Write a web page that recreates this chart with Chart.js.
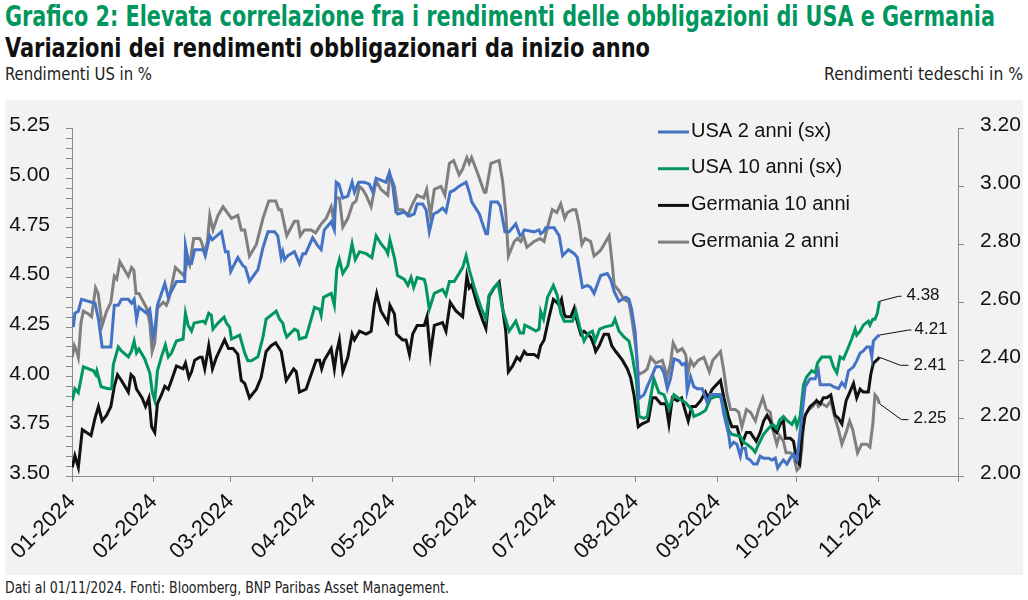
<!DOCTYPE html>
<html>
<head>
<meta charset="utf-8">
<script src="https://cdn.jsdelivr.net/npm/chart.js@4.4.1/dist/chart.umd.min.js"></script>
<style>
  body { margin: 0; width: 1028px; height: 600px; background: #fff; position: relative; overflow: hidden;
         font-family: 'Liberation Sans Narrow', 'DejaVu Sans Condensed', 'Liberation Sans', sans-serif; }
  .t { position: absolute; white-space: nowrap; transform-origin: 0 0; line-height: 1; }
  #title { left: 5px; top: 3px; font-size: 28px; font-weight: bold; color: #00965e; }
  #subtitle { left: 5px; top: 34px; font-size: 27px; font-weight: bold; color: #111; }
  #axisUs { left: 5px; top: 66px; font-size: 17px; color: #222; }
  #axisDe { right: 5px; top: 66px; font-size: 17px; color: #222; transform-origin: 100% 0; }
  #footer { left: 5px; top: 581px; font-size: 15px; color: #222; }
  #panel { position: absolute; left: 5px; top: 100px; width: 1018px; height: 475px; background: #f2f2f2; }
</style>
</head>
<body>
<div class="t" id="title">Grafico 2: Elevata correlazione fra i rendimenti delle obbligazioni di USA e Germania</div>
<div class="t" id="subtitle">Variazioni dei rendimenti obbligazionari da inizio anno</div>
<div class="t" id="axisUs">Rendimenti US in %</div>
<div class="t" id="axisDe">Rendimenti tedeschi in %</div>
<div id="panel"><canvas id="bondChart" width="1018" height="475"></canvas></div>
<div class="t" id="footer">Dati al 01/11/2024. Fonti: Bloomberg, BNP Paribas Asset Management.</div>
<script>
// x = days since 01-01-2024
const monthDays = [0, 31, 60, 91, 121, 152, 182, 213, 244, 274, 305, 335];
const monthLabels = ['01-2024', '02-2024', '03-2024', '04-2024', '05-2024', '06-2024',
                     '07-2024', '08-2024', '09-2024', '10-2024', '11-2024'];

const seriesNames = ['USA 2 anni (sx)', 'USA 10 anni (sx)', 'Germania 10 anni', 'Germania 2 anni'];

const usa2 = [
  [0.5,4.25],[1.1,4.32],[2.4,4.33],[3.6,4.39],[8.7,4.37],[10,4.29],[11.4,4.15],[14.7,4.15],[16,4.36],[17.5,4.36],
  [18.7,4.39],[21.3,4.39],[22.5,4.37],[23.5,4.39],[24.4,4.29],[25.3,4.35],[28.2,4.32],[29.4,4.34],[30.7,4.20],[31.3,4.23],
  [32.3,4.36],[35.1,4.47],[36.4,4.40],[39.5,4.48],[42.6,4.48],[42.9,4.66],[44.2,4.57],[45.2,4.57],[46.4,4.64],[49.6,4.64],
  [50.4,4.61],[52.1,4.71],[53,4.69],[56.5,4.73],[58,4.63],[59,4.63],[60,4.53],
  [62.7,4.60],[64.6,4.56],[65.6,4.55],[67.1,4.48],[70.3,4.54],[72.2,4.65],[74.1,4.73],[76.6,4.73],[77.8,4.71],[79.1,4.60],
  [79.7,4.63],[80.4,4.59],[81.6,4.61],[84.1,4.63],[86,4.57],[87.3,4.62],[88.3,4.62],[91,4.70],[92.9,4.66],[94.2,4.64],
  [95.4,4.74],[98,4.78],[99.2,4.74],[99.9,4.98],[100.9,4.97],[102.4,4.90],[104.3,4.91],[105.9,4.98],[106.8,4.93],[108.4,4.98],
  [110.5,4.98],[112.4,4.97],[113.7,4.93],[115,5.00],[118.7,4.98],[120,5.03],[121.2,4.97],[122.5,4.83],
  [123.2,4.82],[125.7,4.83],[127.6,4.81],[129.4,4.82],[130.5,4.87],[132.6,4.87],[133.9,4.84],[135.1,4.73],[136.7,4.82],[138.3,4.83],
  [140.1,4.85],[141.4,4.83],[143,4.93],[144.5,4.94],[146.4,4.96],[149,4.98],[150.2,4.93],[151.2,4.88],[154,4.82],[156.5,4.72],
  [157.1,4.72],[158.4,4.88],[160.9,4.88],[161.9,4.86],[163.7,4.73],[165.3,4.73],[167.8,4.77],[169.4,4.71],[170.3,4.72],[171,4.74],
  [174.7,4.73],[176.6,4.74],[177.2,4.72],[178.3,4.73],[179.1,4.75],[182.3,4.75],[184.2,4.71],[185.5,4.61],
  [187.7,4.64],[189.9,4.62],[191.1,4.60],[193,4.45],[194.9,4.46],[196.1,4.45],[197.4,4.42],[199.9,4.51],[202.4,4.52],[203.7,4.49],
  [205,4.43],[206.8,4.38],[208.1,4.39],[209.4,4.40],[210.6,4.39],[211.6,4.34],[212.9,4.23],[213.8,4.06],[214.4,3.89],[216.3,3.91],
  [217.5,3.95],[218.8,3.99],[220.7,4.05],[222.6,4.05],[223.8,4.02],[225.1,3.94],[226.3,3.99],[227.6,4.09],[229.5,4.08],[230.7,4.06],
  [232,4.07],[232.6,3.93],[233.9,4.00],[235.1,3.95],[236.4,3.94],[238.3,3.94],[240.2,3.87],[241.4,3.91],[243.3,3.91],[245.2,3.91],
  [246.5,3.81],
  [248.3,3.71],[248.9,3.65],[250.2,3.67],[251.4,3.66],[252.7,3.60],[253.3,3.64],[254.6,3.64],[255.2,3.59],[256.5,3.58],[257.7,3.56],
  [259,3.56],[260.2,3.60],[261.5,3.59],[263.4,3.59],[264.6,3.58],[265.9,3.59],[266.8,3.54],[267.8,3.56],[269,3.58],[270.3,3.56],
  [271.6,3.59],[272.8,3.61],[274.1,3.58],[277.2,3.95],[279.1,3.99],[281,3.99],[282.2,4.03],[282.9,3.96],[284.1,3.96],[286.7,3.96],
  [287.9,3.95],[289.8,3.94],[291.1,3.97],[292.3,3.95],[293.6,4.03],[295.5,4.05],[296.7,4.08],[298,4.12],[299.2,4.13],[300.5,4.15],
  [301.7,4.15],[302.4,4.10],[303,4.18],[304.3,4.20],[305.3,4.21]
];

const usa10 = [
  [0.1,3.88],[1.1,3.94],[2.4,3.92],[4.3,4.05],[8.1,4.03],[9,4.01],[9.4,4.03],[11,3.95],[13.7,3.94],[15,3.94],
  [15.6,4.06],[17.5,4.15],[18.7,4.13],[21.3,4.10],[22.5,4.13],[23.5,4.18],[24.4,4.12],[25.3,4.14],[27.5,4.09],[29.4,4.02],
  [30.4,3.92],[31.3,3.88],[32.3,4.03],[33.8,4.10],[35.3,4.16],[36.4,4.10],[37.6,4.12],[39.5,4.18],[42,4.19],[42.9,4.32],
  [43.9,4.26],[45.2,4.23],[46.2,4.27],[49.6,4.28],[50.4,4.27],[51.7,4.32],[52.7,4.31],[53.3,4.24],[55.2,4.27],[57.5,4.30],
  [58.4,4.27],[59.6,4.25],[60.3,4.19],
  [63.4,4.21],[65.3,4.12],[66.5,4.08],[67.8,4.08],[70.3,4.10],[72.2,4.20],[73.4,4.29],[77.2,4.33],[78.5,4.29],[79.7,4.27],
  [80.4,4.23],[81.2,4.20],[84.1,4.24],[85.4,4.23],[86,4.19],[88.5,4.20],[91.7,4.35],[93.6,4.34],[94.2,4.31],[95.1,4.40],
  [98,4.42],[99.2,4.36],[100.1,4.54],[101.1,4.59],[102.4,4.52],[104.3,4.56],[105.9,4.67],[107.1,4.59],[108.7,4.63],[111.2,4.62],
  [113.4,4.60],[115,4.71],[116.8,4.67],[118.7,4.64],[119.4,4.62],[120.2,4.69],[121.9,4.60],[123.1,4.51],
  [125.7,4.49],[127,4.46],[128.2,4.50],[129.2,4.45],[130.5,4.50],[133.2,4.49],[133.8,4.46],[135.1,4.34],[137,4.42],[140.1,4.44],
  [141.4,4.41],[142.7,4.48],[144.5,4.48],[147.7,4.55],[149,4.61],[150.2,4.54],[152.1,4.45],[154.6,4.35],[156.5,4.29],[157.7,4.41],
  [159.6,4.45],[161.1,4.47],[162.8,4.34],[165.3,4.23],[167.8,4.28],[169.4,4.22],[170.7,4.22],[171.2,4.26],[172.8,4.25],[175.4,4.23],
  [176.6,4.24],[177.2,4.33],[178.3,4.29],[179.8,4.40],[182,4.46],[183.5,4.41],[184.8,4.32],[186.1,4.28],
  [189.2,4.28],[190.5,4.33],[192,4.25],[193.6,4.18],[195.3,4.22],[196.8,4.23],[197.8,4.18],[199.5,4.24],[201.2,4.25],[204.3,4.26],
  [205.3,4.29],[206.8,4.23],[208.7,4.20],[210.6,4.18],[211.9,4.10],[213.4,3.98],[214.4,3.80],[216.3,3.79],[217.5,3.80],[218.8,3.90],
  [220,3.99],[221.9,3.92],[223.8,3.91],[225.7,3.84],[227.6,3.91],[229.5,3.89],[232,3.87],[234.5,3.83],[235.1,3.80],[237,3.81],
  [239.5,3.83],[241.4,3.89],[243.3,3.90],[245.2,3.90],[246.8,3.83],[248.3,3.73],
  [249.5,3.71],[252.7,3.70],[253.9,3.67],[255.2,3.66],[257.1,3.64],[258.3,3.62],[259.6,3.66],[261.5,3.71],[263.4,3.74],[265,3.76],
  [266.5,3.74],[267.5,3.78],[269,3.80],[270.3,3.78],[272.2,3.76],[273.4,3.79],[274.1,3.75],[275.3,3.80],[276.6,3.96],[277.8,4.00],
  [279.7,4.03],[281,4.02],[281.9,4.07],[283.5,4.10],[284.8,4.10],[286.7,4.10],[287.9,4.05],[289.2,4.02],[290.4,4.10],[291.7,4.09],
  [293.6,4.15],[294.8,4.19],[296.1,4.24],[296.7,4.21],[298,4.23],[299.2,4.26],[301.1,4.28],[301.7,4.26],[302.8,4.29],[303.6,4.29],
  [304.5,4.32],[305.3,4.38]
];

const ger10 = [
  [0.1,2.03],[1.1,2.07],[2.4,2.03],[3.9,2.16],[5.5,2.15],[7.2,2.14],[8.7,2.20],[10,2.24],[11.4,2.19],[13.1,2.21],
  [14.7,2.24],[16,2.31],[17.2,2.35],[18.7,2.33],[21.3,2.29],[22.3,2.35],[23.4,2.34],[24.4,2.30],[25.1,2.29],[26.5,2.27],
  [27.8,2.24],[29.1,2.27],[30.1,2.17],[31.3,2.15],[32.3,2.25],[33.8,2.28],[35.1,2.31],[36.4,2.30],[37.6,2.33],[39.5,2.38],
  [42,2.37],[42.9,2.39],[44.2,2.34],[45.2,2.36],[46.4,2.40],[48.3,2.41],[49.2,2.41],[50.2,2.37],[51.7,2.45],[53.1,2.37],
  [54.6,2.41],[57.7,2.47],[59.2,2.44],
  [60.9,2.44],[62.7,2.42],[64,2.33],[65.3,2.32],[67.1,2.27],[69.7,2.30],[71.5,2.34],[73.4,2.43],[75.3,2.45],[77,2.46],
  [79.1,2.43],[81,2.33],[83.8,2.37],[84.8,2.36],[86,2.29],[88.5,2.30],[92.3,2.40],[93.6,2.40],[94.4,2.37],[95.4,2.40],
  [98,2.44],[99.2,2.37],[100.1,2.43],[101.1,2.47],[102.4,2.36],[104.3,2.41],[105.9,2.49],[106.8,2.47],[108.7,2.50],[111.2,2.49],
  [113.1,2.50],[114.3,2.59],[115.2,2.63],[116.8,2.57],[119.4,2.53],[120.2,2.59],[121.9,2.56],[122.7,2.49],[125,2.47],
  [126.3,2.47],[127.6,2.42],[128.8,2.49],[130.5,2.52],[133.2,2.52],[134.2,2.55],[135.5,2.42],[137,2.52],[140.1,2.53],[141.4,2.50],
  [143,2.60],[145.2,2.57],[147.7,2.55],[149.3,2.69],[150.2,2.65],[151.1,2.66],[153.3,2.59],[155.2,2.54],[156.5,2.51],[157.7,2.62],
  [159.6,2.65],[161.5,2.67],[162.8,2.58],[164,2.50],[165,2.36],[166.6,2.38],[168.2,2.41],[169.4,2.40],[171,2.43],[172,2.42],
  [174.7,2.42],[176.2,2.41],[177.2,2.45],[178.5,2.47],[180.4,2.55],[182,2.61],[183.3,2.60],[184.2,2.59],[185.1,2.61],[186.1,2.56],
  [186.7,2.55],[188.6,2.55],[189.9,2.58],[190.5,2.55],[192.4,2.49],[193.6,2.50],[194.9,2.49],[196.1,2.48],[197.4,2.45],[198,2.43],
  [199.3,2.45],[201.2,2.49],[202.8,2.49],[204.1,2.45],[205.6,2.43],[208.1,2.40],[210,2.37],[211.2,2.34],[212.5,2.28],[214.1,2.17],
  [215.6,2.18],[217.9,2.19],[219.4,2.27],[220.7,2.27],[222.6,2.25],[224.5,2.25],[225.7,2.18],[227,2.27],[228.9,2.26],[230.5,2.27],
  [231.7,2.23],[233,2.19],[234.3,2.24],[235.8,2.24],[237.7,2.26],[239.5,2.29],[240.5,2.27],[242.1,2.30],[245.2,2.33],[246.5,2.27],
  [248.3,2.20],
  [249.5,2.17],[251.4,2.17],[253.3,2.11],[255,2.15],[256.5,2.15],[258.7,2.12],[260.2,2.15],[261.5,2.19],[262.8,2.21],[264,2.19],
  [265.3,2.16],[266.5,2.15],[267.8,2.18],[269,2.19],[269.7,2.13],[271.6,2.13],[272.8,2.12],[274.1,2.05],[275.1,2.04],[276,2.14],
  [277.2,2.21],[279.1,2.24],[280.4,2.25],[281.6,2.26],[282.9,2.25],[284.1,2.27],[285.4,2.27],[286.9,2.28],[288.5,2.21],[289.8,2.20],
  [290.4,2.19],[291.1,2.18],[292.7,2.26],[295.5,2.32],[296.7,2.27],[298,2.30],[299.2,2.29],[301.1,2.29],[302,2.35],[303,2.39],
  [304.3,2.40],[305.3,2.41]
];

const ger2 = [
  [0.1,2.41],[0.9,2.45],[1.8,2.43],[2.4,2.41],[3.4,2.53],[4.3,2.57],[6.2,2.56],[7.4,2.55],[8.9,2.65],[9.9,2.63],
  [11.4,2.52],[13.1,2.57],[14.7,2.60],[16,2.69],[16.9,2.68],[18.1,2.74],[20,2.71],[21.3,2.69],[22.5,2.72],[23.4,2.71],
  [24.2,2.63],[25.3,2.63],[28.2,2.58],[29.4,2.53],[30.3,2.43],[31.3,2.46],[32.3,2.58],[34.5,2.60],[35.7,2.59],[36.6,2.61],
  [39.1,2.72],[41.4,2.70],[42.4,2.69],[43.7,2.75],[44.5,2.73],[46,2.82],[48.3,2.82],[48.9,2.81],[50.2,2.77],[51.2,2.81],
  [52.1,2.90],[53.3,2.85],[55.2,2.90],[57.1,2.93],[60.3,2.89],
  [62.7,2.90],[64,2.85],[65.3,2.85],[67.1,2.76],[69.7,2.80],[72.2,2.89],[74.4,2.95],[77,2.95],[78.2,2.92],[79.1,2.92],
  [81.2,2.83],[84.1,2.88],[85.4,2.88],[86.3,2.83],[87.9,2.85],[90.4,2.85],[92.1,2.84],[94.2,2.87],[96.1,2.89],[98,2.93],
  [98.8,2.89],[99.9,2.96],[101.1,2.96],[102.4,2.86],[104.3,2.89],[106.1,2.94],[107.4,2.95],[108.7,3.00],[109.9,2.99],[111.2,2.97],
  [113.1,2.93],[115,3.02],[116.8,2.99],[119.4,2.97],[120.2,3.04],[121.9,3.00],[123.2,2.92],
  [125,2.92],[126.9,2.90],[128.8,2.94],[130.5,2.97],[133,2.96],[134.1,2.99],[135.5,2.90],[137,2.99],[139.5,3.00],[141,2.97],
  [142.7,3.08],[144.3,3.09],[146.4,3.04],[147.7,3.06],[149.3,3.10],[150.2,3.08],[151.1,3.10],[153.6,3.04],[155.9,2.98],[156.5,2.98],
  [158.4,3.08],[161.5,3.09],[162.8,3.02],[164,2.91],[165,2.76],[167.2,2.81],[168.4,2.82],[169.7,2.81],[170.7,2.83],[172,2.79],
  [174.7,2.81],[177,2.82],[178.5,2.81],[179.8,2.86],[181.6,2.92],[183.3,2.91],[184.8,2.94],[186.3,2.89],
  [187.3,2.91],[189.2,2.92],[190.5,2.92],[191.7,2.87],[192.8,2.80],[194,2.82],[196.1,2.81],[197.4,2.76],[198.7,2.77],[199.9,2.78],
  [203.1,2.83],[204.3,2.73],[205,2.66],[206.8,2.64],[208.7,2.61],[210.6,2.60],[211.9,2.53],[213.1,2.45],[214.1,2.35],[216.3,2.36],
  [217.5,2.37],[218.8,2.41],[220.7,2.39],[223.2,2.40],[224.2,2.37],[225.1,2.34],[226.3,2.39],[227.3,2.46],[228.9,2.43],[230.7,2.44],
  [232,2.42],[233,2.36],[233.9,2.40],[235.1,2.38],[236.8,2.40],[238.9,2.41],[241,2.36],[242.3,2.40],[245.2,2.43],[246.5,2.36],
  [247.7,2.28],[249,2.23],
  [250.8,2.23],[252.1,2.22],[253.3,2.17],[255,2.23],[256.5,2.22],[258.4,2.19],[259.6,2.23],[261.2,2.27],[262.5,2.23],[264,2.22],
  [265,2.16],[266.5,2.11],[267.5,2.14],[269,2.12],[270,2.08],[271.6,2.08],[272.8,2.07],[274.1,2.02],[275.1,2.03],[276,2.10],
  [276.8,2.20],[278.5,2.23],[280.1,2.24],[281.4,2.26],[282.2,2.24],[283.5,2.25],[285.4,2.24],[286.9,2.26],[288.5,2.20],[289.8,2.16],
  [291.1,2.11],[292.7,2.15],[294,2.19],[295.2,2.16],[296.1,2.12],[297,2.08],[298.6,2.11],[300.5,2.11],[301.7,2.10],[302.8,2.18],
  [303.6,2.28],[304.5,2.27],[305.3,2.25]
];

const colors = ['#4472c4', '#00965e', '#111111', '#7f7f7f'];
const axisColor = '#8a8a8a';
const tickFont = { family: "'Liberation Sans', Arial, sans-serif", size: 21 };

// stretch the html texts to the widths they have in the original
function fitWidth(id, w) {
  const el = document.getElementById(id);
  const cw = el.getBoundingClientRect().width;
  el.style.transform = 'scaleX(' + (w / cw) + ')';
}
fitWidth('title', 990);
fitWidth('subtitle', 645);
fitWidth('axisUs', 147);
fitWidth('axisDe', 199);
fitWidth('footer', 444);

// legend drawn inside the plot area, top right
const innerLegend = {
  id: 'innerLegend',
  afterDraw(chart) {
    const c = chart.ctx;
    c.save();
    c.font = "20px 'Liberation Sans', Arial, sans-serif";
    c.textBaseline = 'middle';
    chart.data.datasets.forEach((ds, i) => {
      const y = 32 + i * 36.7;
      c.strokeStyle = ds.borderColor;
      c.lineWidth = 3;
      c.beginPath();
      c.moveTo(653, y);
      c.lineTo(684, y);
      c.stroke();
      c.fillStyle = '#111';
      c.fillText(ds.label, 686, y - 1);
    });
    c.restore();
  }
};

// last value labels with a thin leader line
const leaderOffsets = [
  { ex: 29, ey: -5, hx: 32, tx: 35, ty: -6 },
  { ex: 19, ey: -5, hx: 22, tx: 27, ty: -6 },
  { ex: 21, ey: 8, hx: 29, tx: 34, ty: 8 },
  { ex: 22, ey: 16, hx: 29, tx: 34, ty: 15 }
];
const endLabels = {
  id: 'endLabels',
  afterDatasetsDraw(chart) {
    const c = chart.ctx;
    c.save();
    c.font = "17px 'Liberation Sans', Arial, sans-serif";
    c.textBaseline = 'middle';
    c.strokeStyle = '#111';
    c.fillStyle = '#111';
    c.lineWidth = 1;
    chart.data.datasets.forEach((ds, i) => {
      const meta = chart.getDatasetMeta(i);
      const pt = meta.data[meta.data.length - 1];
      const o = leaderOffsets[i];
      c.beginPath();
      c.moveTo(pt.x, pt.y);
      c.lineTo(pt.x + o.ex, pt.y + o.ey);
      c.lineTo(pt.x + o.hx, pt.y + o.ey);
      c.stroke();
      const last = ds.data[ds.data.length - 1][1];
      c.fillText(last.toFixed(2), pt.x + o.tx, pt.y + o.ty);
    });
    c.restore();
  }
};

const ctx = document.getElementById('bondChart').getContext('2d');
const bondChart = new Chart(ctx, {
  type: 'line',
  data: {
    datasets: [
      { label: seriesNames[0], data: usa2, yAxisID: 'y', borderColor: colors[0] },
      { label: seriesNames[1], data: usa10, yAxisID: 'y', borderColor: colors[1] },
      { label: seriesNames[2], data: ger10, yAxisID: 'y2', borderColor: colors[2] },
      { label: seriesNames[3], data: ger2, yAxisID: 'y2', borderColor: colors[3] }
    ]
  },
  options: {
    responsive: false,
    animation: false,
    layout: { padding: { top: 25 } },
    elements: {
      point: { radius: 0 },
      line: { borderWidth: 3, tension: 0, fill: false }
    },
    plugins: {
      legend: { display: false },
      tooltip: { enabled: false }
    },
    scales: {
      x: {
        type: 'linear',
        min: 0,
        max: 335,
        afterBuildTicks: (scale) => { scale.ticks = monthDays.map(v => ({ value: v })); },
        afterFit: (scale) => { scale.height = 99; },
        ticks: {
          autoSkip: false,
          maxRotation: 45,
          minRotation: 45,
          padding: 7,
          color: '#111',
          font: { family: tickFont.family, size: 22 },
          callback: (v, i) => monthLabels[i] || ''
        },
        grid: { drawOnChartArea: false, tickLength: 6, color: axisColor },
        border: { color: axisColor, width: 1 }
      },
      y: {
        position: 'left',
        min: 3.5,
        max: 5.25,
        afterBuildTicks: (scale) => {
          const t = [];
          for (let k = 0; k <= 35; k++) t.push({ value: Math.round((3.5 + k * 0.05) * 100) / 100 });
          scale.ticks = t;
        },
        afterFit: (scale) => { scale.width = 67; },
        ticks: {
          autoSkip: false,
          padding: 16,
          labelOffset: -3,
          color: '#111',
          font: tickFont,
          callback: (v) => (Math.round(v * 100) % 25 === 0 ? v.toFixed(2) : '')
        },
        grid: { drawOnChartArea: false, tickLength: 6, color: axisColor },
        border: { color: axisColor, width: 1 }
      },
      y2: {
        position: 'right',
        min: 2.0,
        max: 3.2,
        afterFit: (scale) => { scale.width = 65; },
        ticks: {
          stepSize: 0.2,
          padding: 16,
          labelOffset: -3,
          color: '#111',
          font: tickFont,
          callback: (v) => v.toFixed(2)
        },
        grid: { drawOnChartArea: false, tickLength: 6, color: axisColor },
        border: { color: axisColor, width: 1 }
      }
    }
  },
  plugins: [innerLegend, endLabels]
});
</script>
</body>
</html>
